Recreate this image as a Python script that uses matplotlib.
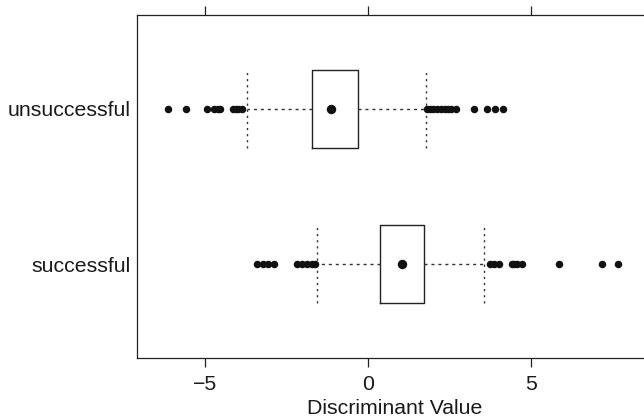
import matplotlib
matplotlib.use("Agg")
import matplotlib.pyplot as plt

plt.rcParams['font.family'] = ['Liberation Sans', 'DejaVu Sans']

groups = ["successful", "unsuccessful"]
q1 = [0.37, -1.72]
median = [1.05, -1.14]
q3 = [1.70, -0.30]
whislo = [-1.57, -3.73]
whishi = [3.54, 1.78]
outliers_successful = [-3.41, -3.21, -3.06, -2.90, -2.17, -2.03, -1.88, -1.73, -1.63,
                       3.74, 3.86, 4.00, 4.40, 4.48, 4.56, 4.71, 5.87, 7.17, 7.65]
outliers_unsuccessful = [-6.13, -5.59, -4.93, -4.72, -4.60, -4.54, -4.13, -4.05, -3.98, -3.87,
                         1.82, 1.90, 2.00, 2.10, 2.22, 2.35, 2.45, 2.55, 2.70,
                         3.25, 3.66, 3.90, 4.13]
xticks = [-5, 0, 5]
xlabel = "Discriminant Value"

fig = plt.figure(figsize=(6.44, 4.18), dpi=100)
W, H = 644, 418
left, right, top, bottom = 137, 652, 15, 358
ax = fig.add_axes([left / W, 1 - bottom / H, (right - left) / W, (bottom - top) / H])

stats = []
fl = [outliers_successful, outliers_unsuccessful]
for i, g in enumerate(groups):
    stats.append(dict(label=g, q1=q1[i], med=median[i], q3=q3[i],
                      whislo=whislo[i], whishi=whishi[i], fliers=fl[i]))

ax.bxp(stats, positions=[1, 2], widths=0.5, capwidths=0.5,
       orientation='horizontal',
       boxprops=dict(color='#222222', linewidth=1.0),
       whiskerprops=dict(color='#333333', linewidth=1.0, linestyle=(0, (2.2, 2.8))),
       capprops=dict(color='#333333', linewidth=1.0, linestyle=(0, (1.6, 2.8))),
       medianprops=dict(linewidth=0),
       flierprops=dict(marker='o', markerfacecolor='#111111', markeredgecolor='#111111',
                       markersize=5.4, markeredgewidth=0, linestyle='none'))
ax.plot(median, [1, 2], 'o', color='#111111', markersize=6.8, markeredgewidth=0, linestyle='none')

x_per_px = 1 / 32.6
ax.set_xlim(-7.09, -7.09 + (right - left) * x_per_px)
ax.set_ylim(0.4, 2.6)
ax.set_xticks(xticks)
ax.set_xticklabels(["\u2212" + str(abs(t)) if t < 0 else str(t) for t in xticks])
ax.set_yticks([1, 2])
ax.set_yticklabels(groups)
ax.tick_params(axis='x', which='both', top=True, bottom=True, direction='out',
               length=6.5, width=0.9, color='#222222', labelsize=15.3, pad=5.5,
               labelcolor='#1a1a1a')
ax.tick_params(axis='y', length=0, labelsize=15.3, pad=4.5, labelcolor='#1a1a1a')
for s in ax.spines.values():
    s.set_color('#222222')
    s.set_linewidth(0.9)
ax.set_xlabel(xlabel, fontsize=15.3, labelpad=3.5, color='#1a1a1a')

fig.savefig("out.png", dpi=100)
